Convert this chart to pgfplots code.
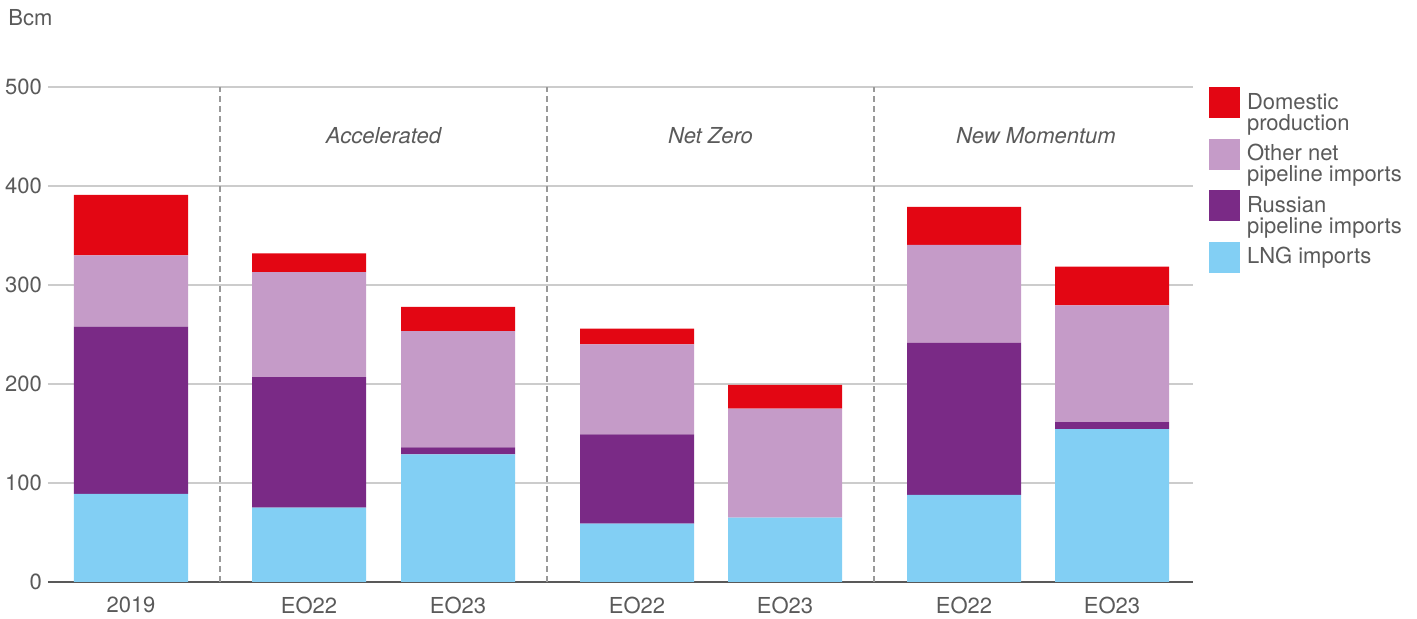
\documentclass[border=0pt]{standalone}
\usepackage{pgfplots}
\pgfplotsset{compat=1.18}
\usepackage{fontspec}
\setmainfont{TeX Gyre Heros}
\definecolor{dom}{HTML}{E30613}
\definecolor{oth}{HTML}{C59BC8}
\definecolor{rus}{HTML}{7A2A86}
\definecolor{lng}{HTML}{82CFF4}
\definecolor{txt}{HTML}{5A5A5A}
\definecolor{gridc}{HTML}{CCCCCC}
\definecolor{axc}{HTML}{595959}
\definecolor{dashc}{HTML}{999999}
\begin{document}
\begin{tikzpicture}
\useasboundingbox (-24pt,-18.5pt) rectangle (684.5pt,291pt);
\begin{axis}[at={(0,0)}, anchor=south west, scale only axis,
 width=572.5pt, height=247.5pt,
 xmin=48, xmax=1193, ymin=0, ymax=500,
 ybar stacked, bar width=57pt,
 xtick={131,309,458,637,785,964,1112},
 xticklabels={2019,EO22,EO23,EO22,EO23,EO22,EO23},
 ytick={0,100,...,500},
 major tick length=0pt,
 ymajorgrids, grid style={color=gridc, line width=0.6pt},
 axis x line*=bottom, axis y line*=left,
 x axis line style={color=axc, line width=1pt},
 y axis line style={draw=none},
 tick label style={font=\fontsize{11}{12}\selectfont, text=txt},
 /pgf/number format/assume math mode=true,
 xticklabel style={anchor=center, yshift=-11.5pt},
 yticklabel style={xshift=0.5pt},
 clip=false,
 legend cell align=left, reverse legend,
 legend style={draw=none, fill=none, at={(1,1)}, anchor=north west, xshift=8pt,
   row sep=2.75pt, inner sep=0pt, outer sep=0pt,
   nodes={inner sep=0pt, align=left, font=\fontsize{11}{10.5}\selectfont, text=txt},
   /tikz/every odd column/.append style={column sep=3.5pt}},
]
\addplot[fill=lng, draw=none,
  legend image code/.code={\fill[lng] (0pt,-7.75pt) rectangle (15.5pt,7.75pt);}]
  coordinates {(131,89) (309,75) (458,129) (637,59) (785,65) (964,88) (1112,154.5)};
\addlegendentry{LNG imports}
\addplot[fill=rus, draw=none,
  legend image code/.code={\fill[rus] (0pt,-2.5pt) rectangle (15.5pt,13pt);}]
  coordinates {(131,169) (309,132) (458,7) (637,90) (785,0) (964,153.5) (1112,7)};
\addlegendentry{Russian\\pipeline imports}
\addplot[fill=oth, draw=none,
  legend image code/.code={\fill[oth] (0pt,-2.5pt) rectangle (15.5pt,13pt);}]
  coordinates {(131,72) (309,106) (458,117.5) (637,91) (785,110) (964,99) (1112,118)};
\addlegendentry{Other net\\pipeline imports}
\addplot[fill=dom, draw=none,
  legend image code/.code={\fill[dom] (0pt,-2.5pt) rectangle (15.5pt,13pt);}]
  coordinates {(131,61) (309,19) (458,24.5) (637,16) (785,24) (964,38.5) (1112,39)};
\addlegendentry{Domestic\\production}
\draw[dashc, dash pattern=on 3pt off 2pt, line width=0.7pt] (axis cs:220,0) -- (axis cs:220,500);
\draw[dashc, dash pattern=on 3pt off 2pt, line width=0.7pt] (axis cs:547,0) -- (axis cs:547,500);
\draw[dashc, dash pattern=on 3pt off 2pt, line width=0.7pt] (axis cs:874,0) -- (axis cs:874,500);
\node[font=\fontsize{11}{12}\selectfont\itshape, text=txt] at (axis cs:383.5,450.5) {Accelerated};
\node[font=\fontsize{11}{12}\selectfont\itshape, text=txt] at (axis cs:710.5,450.5) {Net Zero};
\node[font=\fontsize{11}{12}\selectfont\itshape, text=txt] at (axis cs:1036,450.5) {New Momentum};
\node[anchor=west, font=\fontsize{11}{12}\selectfont, text=txt, inner sep=0pt] at (rel axis cs:0,1) [xshift=-20pt, yshift=34.5pt] {Bcm};
\end{axis}
\end{tikzpicture}
\end{document}
